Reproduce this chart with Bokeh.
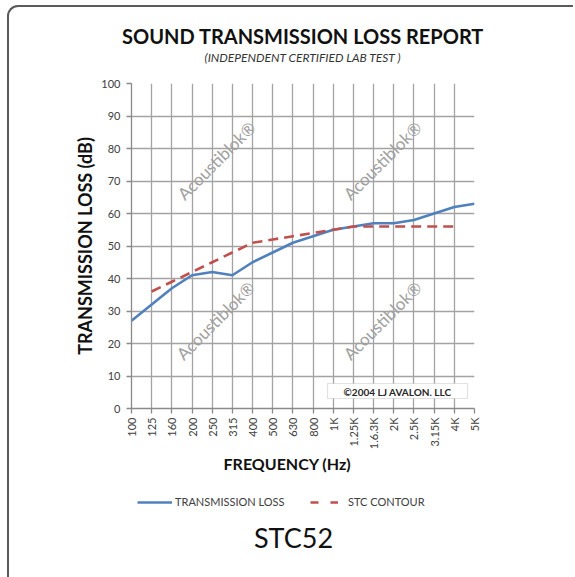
import math
from bokeh.plotting import figure
from bokeh.layouts import column
from bokeh.models import (FixedTicker, Label, Legend, LegendItem, BoxAnnotation,
                          ColumnDataSource, InlineStyleSheet, Title, Range1d)
from bokeh.embed import file_html
from bokeh.resources import INLINE

# ---------------- data ----------------
categories = ["100", "125", "160", "200", "250", "315", "400", "500", "630", "800",
              "1K", "1.25K", "1.6.3K", "2K", "2.5K", "3.15K", "4K", "5K"]
transmission_loss = [27, 32, 37, 41, 42, 41, 45, 48, 51, 53, 55, 56, 57, 57, 58, 60, 62, 63]
stc_bands = ["125", "160", "200", "250", "315", "400", "500", "630", "800",
             "1K", "1.25K", "1.6.3K", "2K", "2.5K", "3.15K", "4K"]
stc_contour = [36, 39, 42, 45, 48, 51, 52, 53, 54, 55, 56, 56, 56, 56, 56, 56]
y_ticks = [0, 10, 20, 30, 40, 50, 60, 70, 80, 90, 100]
stc_rating = "STC52"

# ---------------- layout ----------------
W, H = 575, 577
HM = 485                              # height of the chart part; the rest is the footer
FL, FT, FR, FB = 131, 83, 474, 408   # frame edges (canvas px)
NX = len(categories) - 1

def fx(cx):
    return (cx - FL) / (FR - FL) * NX

def fy(cy):
    return (FB - cy) / (FB - FT) * 100.0

FONT = "Lato"
GRID = "#a3a3a3"
BLUE = "#4f81bd"
RED = "#c0504d"
EDGE = "#5a5a5a"

p = figure(width=W, height=HM, x_range=(0, NX), y_range=(0, 100),
           output_backend="svg", toolbar_location=None,
           min_border_left=FL, min_border_right=W - FR,
           min_border_top=FT, min_border_bottom=HM - FB)
p.outline_line_color = None
p.background_fill_color = "white"
p.border_fill_color = "white"

# outer rounded frame (drawn via CSS)
p.stylesheets = [InlineStyleSheet(css=(
    ":host::after { content: ''; position: absolute; left: 7px; top: 5px; "
    "right: 2px; bottom: 0px; border-left: 2px solid " + EDGE + "; "
    "border-top: 2px solid " + EDGE + "; border-top-left-radius: 11px; "
    "pointer-events: none; z-index: 10; }"))]

# axes
xt = FixedTicker(ticks=list(range(len(categories))))
p.xaxis.ticker = xt
p.xaxis.major_label_overrides = {i: c for i, c in enumerate(categories)}
p.xaxis.major_label_orientation = math.pi / 2
p.yaxis.ticker = FixedTicker(ticks=y_ticks)
for ax in (p.xaxis[0], p.yaxis[0]):
    ax.axis_line_color = "#8a8a8a"
    ax.axis_line_width = 1.3
    ax.major_tick_line_color = "#8a8a8a"
    ax.major_tick_line_width = 1.3
    ax.major_tick_out = 5
    ax.major_tick_in = 0
    ax.minor_tick_line_color = None
    ax.major_label_text_font = FONT
    ax.major_label_text_font_size = "11px"
    ax.major_label_text_color = "#404040"
    ax.axis_label_text_font = FONT
    ax.axis_label_text_font_style = "bold"
    ax.axis_label_text_color = "#111111"
p.yaxis.major_label_standoff = 6
p.xaxis.major_label_standoff = 4
p.yaxis.axis_label = "TRANSMISSION LOSS (dB)"
p.yaxis.axis_label_text_font_size = "18px"
p.yaxis.axis_label_standoff = 2
p.xaxis.axis_label = "FREQUENCY (Hz)" + " " * 8
p.xaxis.axis_label_text_font_size = "16px"
p.xaxis.axis_label_standoff = 2

p.xgrid.ticker = xt
p.xgrid.grid_line_color = GRID
p.xgrid.grid_line_width = 1.3
p.ygrid.ticker = FixedTicker(ticks=y_ticks)
p.ygrid.grid_line_color = GRID
p.ygrid.grid_line_width = 1.3

# series
src_tl = ColumnDataSource(dict(x=list(range(len(categories))), y=transmission_loss))
src_stc = ColumnDataSource(dict(x=[categories.index(b) for b in stc_bands], y=stc_contour))
r_tl = p.line("x", "y", source=src_tl, line_color=BLUE, line_width=2.6)
r_stc = p.line("x", "y", source=src_stc, line_color=RED, line_width=2.6, line_dash="10 6")

# watermarks
for (cx, cy) in [(216, 160), (382, 160), (215, 320), (382, 320)]:
    p.add_layout(Label(x=fx(cx), y=fy(cy), text="Acoustiblok\u00ae", angle=math.pi / 4,
                       text_align="center", text_baseline="middle", text_font=FONT,
                       text_font_size="17px", text_color="#a0a0a0"))

# copyright box
p.add_layout(BoxAnnotation(left=fx(327), right=fx(467), top=fy(383), bottom=fy(398),
                           fill_color="white", fill_alpha=1.0,
                           line_color="#a0a0a0", line_width=1.2))
p.add_layout(Label(x=fx(397), y=fy(391), text="\u00a92004 LJ AVALON. LLC",
                   text_align="center", text_baseline="middle", text_font=FONT,
                   text_font_style="bold", text_font_size="10px", text_color="#262626"))

# titles above (first added = nearest the frame)
def title(text, size, style="normal", color="#111111", standoff=0):
    return Title(text=text, text_font=FONT, text_font_size=size, text_font_style=style,
                 text_color=color, standoff=standoff, align="center",
                 vertical_align="middle")

p.add_layout(title(" ", "1px", standoff=15), "above")
p.add_layout(title("(INDEPENDENT CERTIFIED LAB TEST )", "12px", "italic", "#333333"), "above")
p.add_layout(title("SOUND TRANSMISSION LOSS REPORT", "20px", "bold", standoff=0), "above")

# ---------------- footer: legend + rating ----------------
f = figure(width=W, height=H - HM, x_range=Range1d(FL, FR), y_range=Range1d(H, HM),
           output_backend="svg", toolbar_location=None,
           min_border_left=FL, min_border_right=W - FR, min_border_top=0, min_border_bottom=0,
           x_axis_type=None, y_axis_type=None)
f.outline_line_color = None
f.grid.visible = False
f.background_fill_color = "white"
f.border_fill_color = "white"
f.stylesheets = [InlineStyleSheet(css=(
    ":host::after { content: ''; position: absolute; left: 7px; top: 0px; "
    "width: 0px; bottom: 0px; border-left: 2px solid " + EDGE + "; "
    "pointer-events: none; z-index: 10; }"))]

nan = float("nan")
k_tl = f.line(x=[nan], y=[nan], line_color=BLUE, line_width=2.6)
k_stc = f.line(x=[nan], y=[nan], line_color=RED, line_width=2.6, line_dash="8 12")

def key(label, renderer, x, gw, standoff):
    lg = Legend(items=[LegendItem(label=label, renderers=[renderer])],
                location=(x - FL, (H - 502) - 6), orientation="horizontal",
                glyph_width=gw, glyph_height=12, label_height=12,
                label_standoff=standoff, padding=0, margin=0, spacing=0,
                border_line_color=None, background_fill_alpha=0,
                label_text_font=FONT, label_text_font_size="11px",
                label_text_color="#404040")
    f.add_layout(lg, "center")

key("TRANSMISSION LOSS", k_tl, 137, 35, 3)
key("STC CONTOUR", k_stc, 310, 28, 10)

f.add_layout(Label(x=293, y=537, text=stc_rating, text_align="center",
                   text_baseline="middle", text_font=FONT, text_font_size="27px",
                   text_color="#111111"))

layout = column(p, f, spacing=0)
open("out.html", "w").write(file_html(layout, INLINE))
